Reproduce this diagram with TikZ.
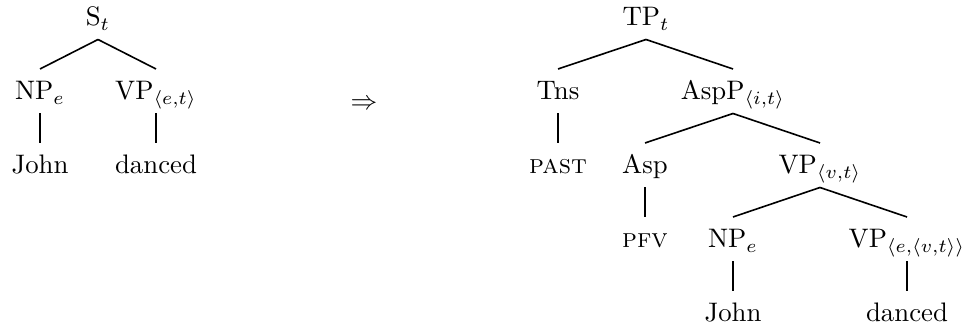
\documentclass[tikz,border=0pt]{standalone}
\usetikzlibrary{calc}
\begin{document}
\begin{tikzpicture}[x=0.3735pt,y=-0.3735pt,
  lbl/.style={anchor=base,inner sep=0pt,font=\fontsize{10}{12}\selectfont},
  edge/.style={line width=0.6pt}]
\useasboundingbox (0,0) rectangle (962,329);
\newcommand\treeedge[2]{\draw[edge] ($(#1.base)+(0,13.5)$) -- ($(#2.base)+(0,-31)$);}
% left tree
\node[lbl] (s) at (98,26) {S$_t$};
\node[lbl] (np1) at (40,100) {NP$_e$};
\node[lbl] (vp1) at (156,100) {VP$_{\langle e,t\rangle}$};
\node[lbl] (john1) at (40,174) {John};
\node[lbl] (danced1) at (156,174) {danced};
\treeedge{s}{np1}
\treeedge{s}{vp1}
\treeedge{np1}{john1}
\treeedge{vp1}{danced1}
% arrow
\node[inner sep=0pt,font=\fontsize{10}{12}\selectfont] (arr) at (364,105) {$\Rightarrow$};
% right tree
\node[lbl] (tp) at (646,26) {TP$_t$};
\node[lbl] (tns) at (558,100) {Tns};
\node[lbl] (aspp) at (733,100) {AspP$_{\langle i,t\rangle}$};
\node[lbl] (past) at (558,174) {\textsc{past}};
\node[lbl] (asp) at (645,174) {Asp};
\node[lbl] (vp2) at (820,174) {VP$_{\langle v,t\rangle}$};
\node[lbl] (pfv) at (645,248) {\textsc{pfv}};
\node[lbl] (np2) at (733,248) {NP$_e$};
\node[lbl] (vp3) at (907,248) {VP$_{\langle e,\langle v,t\rangle\rangle}$};
\node[lbl] (john2) at (733,322) {John};
\node[lbl] (danced2) at (907,322) {danced};
\treeedge{tp}{tns}
\treeedge{tp}{aspp}
\treeedge{tns}{past}
\treeedge{aspp}{asp}
\treeedge{aspp}{vp2}
\treeedge{asp}{pfv}
\treeedge{vp2}{np2}
\treeedge{vp2}{vp3}
\treeedge{np2}{john2}
\treeedge{vp3}{danced2}
\end{tikzpicture}
\end{document}
